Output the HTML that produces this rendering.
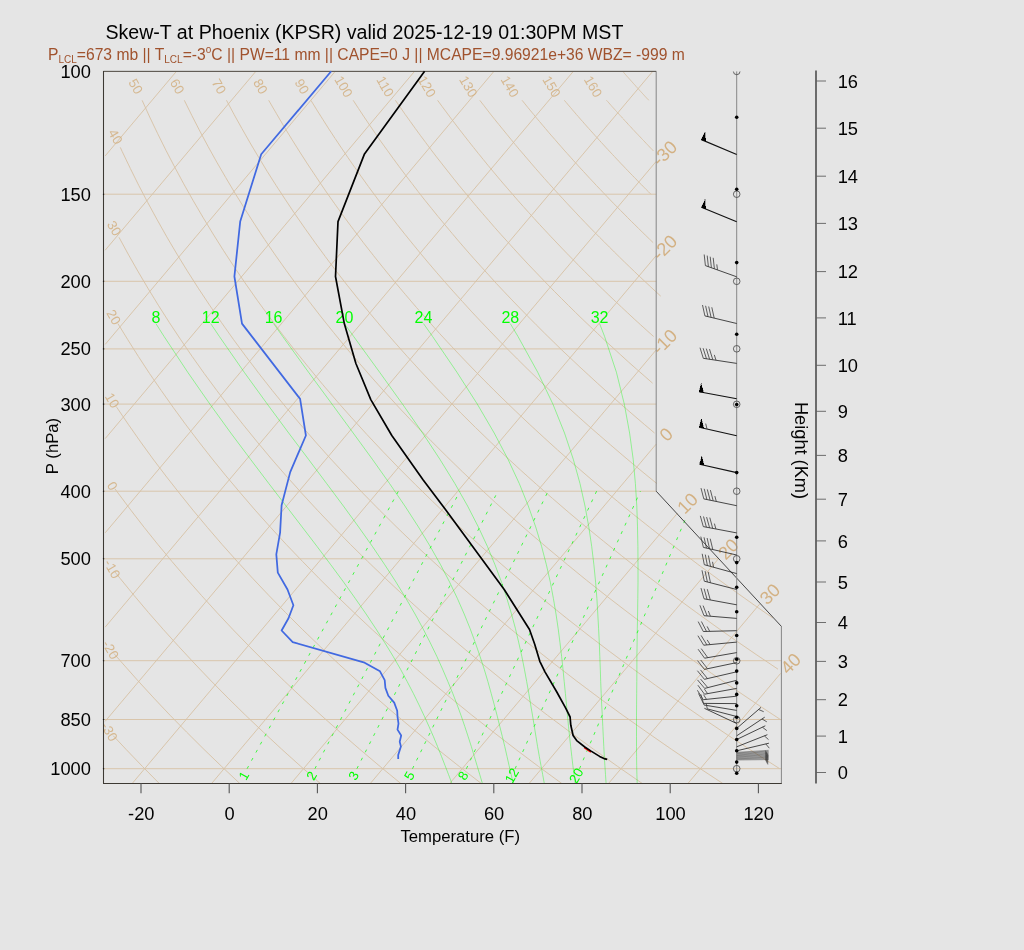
<!DOCTYPE html>
<html><head><meta charset="utf-8"><title>Skew-T</title>
<style>
html,body{margin:0;padding:0;background:#e5e5e5;}
body{width:1024px;height:950px;position:relative;overflow:hidden;font-family:"Liberation Sans",sans-serif;}
</style></head><body>
<svg width="1024" height="950" viewBox="0 0 1024 950" style="position:absolute;left:0;top:0">
<rect width="1024" height="950" fill="#e5e5e5"/>
<g opacity="0.999">
<g stroke="#d2b48c" stroke-width="0.9" fill="none" opacity="0.73">
<path d="M103.4 768.7H781.4"/>
<path d="M103.4 719.5H781.4"/>
<path d="M103.4 660.7H781.4"/>
<path d="M103.4 558.8H718.4"/>
<path d="M103.4 491.2H656.2"/>
<path d="M103.4 404.1H656.2"/>
<path d="M103.4 348.9H656.2"/>
<path d="M103.4 281.3H656.2"/>
<path d="M103.4 194.2H656.2"/>
<path d="M105.2 155.9L176.4 71.4"/>
<path d="M105.2 250.2L255.8 71.4"/>
<path d="M105.2 344.4L335.2 71.4"/>
<path d="M105.2 438.6L414.5 71.4"/>
<path d="M105.2 532.8L493.9 71.4"/>
<path d="M105.2 627.1L573.3 71.4"/>
<path d="M105.2 721.3L652.7 71.4"/>
<path d="M132.2 783.5L656.2 161.4"/>
<path d="M211.6 783.5L656.2 255.6"/>
<path d="M291 783.5L656.2 349.9"/>
<path d="M370.3 783.5L656.2 444.1"/>
<path d="M449.7 783.5L677.5 513.1"/>
<path d="M529.1 783.5L718.4 558.8"/>
<path d="M608.5 783.5L759.9 603.8"/>
<path d="M687.9 783.5L780.6 673.4"/>
<path d="M113.2 735.7 126 749.3 142.4 766.4 159.3 783.5"/>
<path d="M113.8 653.4 123 663.9 138.2 681 153.9 698.1 170 715.2 186.7 732.2 203.9 749.3 221.6 766.4 239.8 783.5"/>
<path d="M114.9 571.9 120.2 578.5 134.2 595.6 148.6 612.7 163.6 629.8 179 646.8 194.9 663.9 211.2 681 228.1 698.1 245.5 715.2 263.4 732.2 281.8 749.3 300.8 766.4 320.3 783.5"/>
<path d="M114.9 488.8 118.1 493.1 130.9 510.2 144.1 527.3 157.8 544.4 171.9 561.4 186.5 578.5 201.6 595.6 217.1 612.7 233.2 629.8 249.7 646.8 266.8 663.9 284.3 681 302.4 698.1 321 715.2 340.1 732.2 359.8 749.3 380 766.4 400.8 783.5"/>
<path d="M116.1 406.4 117 407.7 128.6 424.8 140.6 441.9 153 459 165.9 476 179.3 493.1 193 510.2 207.3 527.3 222 544.4 237.2 561.4 252.8 578.5 269 595.6 285.7 612.7 302.8 629.8 320.5 646.8 338.7 663.9 357.4 681 376.6 698.1 396.4 715.2 416.8 732.2 437.7 749.3 459.2 766.4 481.3 783.5"/>
<path d="M117.9 323.6 127.6 339.4 138.4 356.5 149.6 373.6 161.3 390.6 173.4 407.7 185.9 424.8 198.9 441.9 212.3 459 226.1 476 240.5 493.1 255.2 510.2 270.5 527.3 286.2 544.4 302.5 561.4 319.2 578.5 336.4 595.6 354.2 612.7 372.4 629.8 391.2 646.8 410.6 663.9 430.4 681 450.9 698.1 471.9 715.2 493.5 732.2 515.7 749.3 538.4 766.4 561.8 783.5"/>
<path d="M119 237.3 128.1 254 137.8 271.1 147.9 288.2 158.3 305.2 169.2 322.3 180.5 339.4 192.2 356.5 204.3 373.6 216.9 390.6 229.8 407.7 243.3 424.8 257.2 441.9 271.5 459 286.3 476 301.6 493.1 317.4 510.2 333.7 527.3 350.4 544.4 367.7 561.4 385.5 578.5 403.8 595.6 422.7 612.7 442 629.8 462 646.8 482.5 663.9 503.5 681 525.2 698.1 547.4 715.2 570.2 732.2 593.6 749.3 617.6 766.4 642.3 783.5"/>
<path d="M120.3 147.4 122.2 151.5 130.4 168.6 138.9 185.7 147.9 202.8 157.2 219.8 166.8 236.9 176.9 254 187.4 271.1 198.3 288.2 209.6 305.2 221.3 322.3 233.4 339.4 246 356.5 259 373.6 272.4 390.6 286.3 407.7 300.7 424.8 315.5 441.9 330.8 459 346.6 476 362.8 493.1 379.6 510.2 396.9 527.3 414.7 544.4 433 561.4 451.8 578.5 471.2 595.6 491.2 612.7 511.7 629.8 532.7 646.8 554.4 663.9 576.6 681 599.4 698.1 622.8 715.2 646.9 732.2 671.5 749.3 696.8 766.4 722.8 783.5"/>
<path d="M142.1 100.3 149.7 117 157.7 133.7 166 150.4 174.7 167.1 183.7 183.8 193.1 200.5 202.9 217.2 213.1 234 223.6 250.7 234.5 267.4 245.9 284.1 257.6 300.8 269.8 317.5 282.3 334.2 295.3 350.9 308.8 367.6 322.6 384.4 336.9 401.1 351.7 417.8 366.9 434.5 382.6 451.2 398.7 467.9 415.4 484.6 432.5 501.3 450.1 518 468.2 534.8 486.9 551.5 506 568.2 525.7 584.9 546 601.6 566.7 618.3 588 635 609.9 651.7 632.4 668.4 655.4 685.2 679.1 701.9 703.3 718.6 728.1 735.3 753.6 752 779.7 768.7"/>
<path d="M184.3 100.3 192 115.8 199.9 131.2 208.2 146.7 216.8 162.2 225.8 177.7 235 193.2 244.6 208.6 254.5 224.1 264.7 239.6 275.3 255.1 286.3 270.6 297.5 286 309.2 301.5 321.2 317 333.6 332.5 346.3 348 359.5 363.4 373 378.9 386.9 394.4 401.2 409.9 415.9 425.4 431 440.8 446.6 456.3 462.5 471.8 478.9 487.3 495.7 502.8 513 518.2 530.7 533.7 548.9 549.2 567.5 564.7 586.5 580.2 606.1 595.7 626.1 611.1 646.7 626.6 667.7 642.1 689.2 657.6 711.2 673.1 733.8 688.5 756.8 704 780.4 719.5"/>
<path d="M226.5 100.3 234.1 114.5 242 128.7 250.1 142.9 258.6 157.2 267.2 171.4 276.2 185.6 285.5 199.8 295 214.1 304.9 228.3 315 242.5 325.4 256.7 336.1 271 347.2 285.2 358.5 299.4 370.2 313.6 382.2 327.9 394.5 342.1 407.1 356.3 420.1 370.5 433.4 384.8 447.1 399 461.1 413.2 475.4 427.4 490.1 441.6 505.2 455.9 520.6 470.1 536.4 484.3 552.6 498.5 569.2 512.8 586.1 527 603.5 541.2 621.2 555.4 639.3 569.7 657.9 583.9 676.8 598.1 696.2 612.3 716 626.6 736.2 640.8 756.9 655 778 669.2"/>
<path d="M268.7 100.3 276.2 113.2 283.8 126.2 291.7 139.1 299.8 152 308.2 165 316.8 177.9 325.6 190.9 334.7 203.8 344 216.8 353.6 229.7 363.4 242.7 373.5 255.6 383.8 268.5 394.4 281.5 405.3 294.4 416.4 307.4 427.8 320.3 439.4 333.3 451.4 346.2 463.6 359.1 476.1 372.1 488.9 385 502 398 515.4 410.9 529.1 423.9 543.1 436.8 557.4 449.8 572 462.7 586.9 475.6 602.2 488.6 617.7 501.5 633.6 514.5 649.8 527.4 666.4 540.4 683.3 553.3 700.5 566.3 718.1 579.2 736 592.1 754.3 605.1 772.9 618"/>
<path d="M310.9 100.3 316.8 109.9 322.8 119.4 328.9 129 335.2 138.6 341.6 148.2 348.1 157.8 354.7 167.3 361.5 176.9 368.4 186.5 375.5 196.1 382.6 205.7 390 215.3 397.4 224.8 405 234.4 412.8 244 420.7 253.6 428.7 263.2 436.9 272.8 445.2 282.3 453.7 291.9 462.4 301.5 471.1 311.1 480.1 320.7 489.2 330.2 498.4 339.8 507.8 349.4 517.4 359 527.1 368.6 537 378.2 547 387.7 557.3 397.3 567.6 406.9 578.2 416.5 588.9 426.1 599.8 435.6 610.9 445.2 622.1 454.8 633.5 464.4 645.1 474 656.9 483.6"/>
<path d="M353.2 100.3 358.6 108.6 364.1 116.9 369.7 125.2 375.4 133.5 381.2 141.9 387.2 150.2 393.2 158.5 399.3 166.8 405.5 175.1 411.9 183.4 418.3 191.8 424.8 200.1 431.5 208.4 438.2 216.7 445.1 225 452.1 233.4 459.1 241.7 466.3 250 473.6 258.3 481.1 266.6 488.6 274.9 496.2 283.3 504 291.6 511.9 299.9 519.9 308.2 528 316.5 536.2 324.8 544.6 333.2 553.1 341.5 561.6 349.8 570.4 358.1 579.2 366.4 588.2 374.7 597.3 383.1 606.5 391.4 615.8 399.7 625.3 408 634.9 416.3 644.7 424.7 654.5 433"/>
<path d="M395.4 100.3 400.3 107.3 405.2 114.4 410.3 121.5 415.4 128.6 420.5 135.6 425.8 142.7 431.1 149.8 436.5 156.9 442 163.9 447.6 171 453.2 178.1 458.9 185.2 464.7 192.2 470.6 199.3 476.5 206.4 482.5 213.4 488.7 220.5 494.8 227.6 501.1 234.7 507.5 241.7 513.9 248.8 520.4 255.9 527 263 533.7 270 540.5 277.1 547.3 284.2 554.3 291.3 561.3 298.3 568.4 305.4 575.6 312.5 582.9 319.6 590.3 326.6 597.8 333.7 605.3 340.8 613 347.8 620.7 354.9 628.5 362 636.5 369.1 644.5 376.1 652.6 383.2"/>
<path d="M437.6 100.3 441.9 106.2 446.3 112.1 450.7 118 455.2 123.9 459.7 129.8 464.3 135.7 468.9 141.6 473.6 147.5 478.3 153.4 483.1 159.3 487.9 165.2 492.8 171.1 497.8 177.1 502.8 183 507.9 188.9 513 194.8 518.1 200.7 523.4 206.6 528.7 212.5 534 218.4 539.4 224.3 544.9 230.2 550.4 236.1 556 242 561.6 247.9 567.3 253.8 573.1 259.7 578.9 265.7 584.8 271.6 590.7 277.5 596.7 283.4 602.8 289.3 608.9 295.2 615.1 301.1 621.4 307 627.7 312.9 634 318.8 640.5 324.7 647 330.6 653.6 336.5"/>
<path d="M479.8 100.3 483.6 105.2 487.4 110.1 491.2 115 495.1 119.9 499 124.7 503 129.6 507 134.5 511 139.4 515 144.3 519.1 149.2 523.3 154.1 527.5 159 531.7 163.9 535.9 168.8 540.2 173.7 544.5 178.6 548.9 183.5 553.3 188.4 557.8 193.3 562.3 198.2 566.8 203.1 571.4 208 576 212.9 580.6 217.8 585.3 222.7 590 227.6 594.8 232.5 599.6 237.3 604.5 242.2 609.4 247.1 614.3 252 619.3 256.9 624.3 261.8 629.4 266.7 634.5 271.6 639.6 276.5 644.8 281.4 650.1 286.3 655.3 291.2 660.7 296.1"/>
<path d="M522.1 100.3 524.9 103.8 527.8 107.4 530.7 110.9 533.7 114.5 536.6 118.1 539.6 121.6 542.6 125.2 545.6 128.7 548.6 132.3 551.7 135.9 554.8 139.4 557.9 143 561 146.5 564.1 150.1 567.3 153.6 570.5 157.2 573.7 160.8 576.9 164.3 580.1 167.9 583.4 171.4 586.7 175 590 178.6 593.3 182.1 596.6 185.7 600 189.2 603.4 192.8 606.8 196.3 610.2 199.9 613.7 203.5 617.2 207 620.7 210.6 624.2 214.1 627.7 217.7 631.3 221.3 634.9 224.8 638.5 228.4 642.1 231.9 645.8 235.5 649.4 239 653.1 242.6"/>
<path d="M564.3 100.3 566.3 102.6 568.3 105 570.3 107.3 572.3 109.7 574.3 112 576.3 114.4 578.4 116.7 580.4 119.1 582.5 121.4 584.6 123.8 586.6 126.1 588.7 128.4 590.8 130.8 592.9 133.1 595 135.5 597.2 137.8 599.3 140.2 601.4 142.5 603.6 144.9 605.7 147.2 607.9 149.6 610.1 151.9 612.3 154.3 614.5 156.6 616.7 159 618.9 161.3 621.1 163.7 623.4 166 625.6 168.4 627.8 170.7 630.1 173.1 632.4 175.4 634.7 177.8 637 180.1 639.2 182.5 641.6 184.8 643.9 187.2 646.2 189.5 648.5 191.8 650.9 194.2"/>
<path d="M606.5 100.3 607.6 101.5 608.8 102.8 609.9 104.1 611 105.3 612.1 106.6 613.3 107.9 614.4 109.1 615.5 110.4 616.7 111.7 617.8 112.9 619 114.2 620.1 115.4 621.3 116.7 622.4 118 623.6 119.2 624.7 120.5 625.9 121.8 627.1 123 628.2 124.3 629.4 125.6 630.6 126.8 631.8 128.1 632.9 129.4 634.1 130.6 635.3 131.9 636.5 133.2 637.7 134.4 638.9 135.7 640.1 136.9 641.3 138.2 642.5 139.5 643.7 140.7 644.9 142 646.1 143.3 647.3 144.5 648.5 145.8 649.7 147.1 650.9 148.3 652.2 149.6 653.4 150.9"/>
<path d="M622.7 71.4 623.4 72.1 624 72.8 624.6 73.6 625.3 74.3 625.9 75 626.5 75.7 627.2 76.5 627.8 77.2 628.5 77.9 629.1 78.6 629.7 79.3 630.4 80.1 631 80.8 631.7 81.5 632.3 82.2 633 83 633.6 83.7 634.3 84.4 634.9 85.1 635.6 85.8 636.2 86.6 636.9 87.3 637.5 88 638.2 88.7 638.8 89.4 639.5 90.2 640.1 90.9 640.8 91.6 641.4 92.3 642.1 93.1 642.8 93.8 643.4 94.5 644.1 95.2 644.7 95.9 645.4 96.7 646.1 97.4 646.7 98.1 647.4 98.8 648.1 99.5 648.7 100.3"/>
</g>
<g fill="#d3b081" font-family="Liberation Sans, sans-serif" font-size="18.3" opacity="0.97">
<text transform="translate(656.2,161.4) rotate(-45)" x="-1.5" y="6.5">-30</text>
<text transform="translate(656.2,255.6) rotate(-45)" x="-1.5" y="6.5">-20</text>
<text transform="translate(656.2,349.9) rotate(-45)" x="-1.5" y="6.5">-10</text>
<text transform="translate(656.2,444.1) rotate(-45)" x="8.8" y="6.5">0</text>
<text transform="translate(677.5,513.1) rotate(-45)" x="3.8" y="6.5">10</text>
<text transform="translate(718.4,558.8) rotate(-45)" x="3.8" y="6.5">20</text>
<text transform="translate(759.9,603.8) rotate(-45)" x="3.8" y="6.5">30</text>
<text transform="translate(780.6,673.4) rotate(-45)" x="3.8" y="6.5">40</text>
</g>
<g fill="#d3b081" font-family="Liberation Sans, sans-serif" font-size="13.4" text-anchor="middle" opacity="0.85">
<text transform="translate(109.5,731.7) rotate(60)" x="0" y="4.8">-30</text>
<text transform="translate(110.7,649.7) rotate(60)" x="0" y="4.8">-20</text>
<text transform="translate(112.4,568.8) rotate(60)" x="0" y="4.8">-10</text>
<text transform="translate(112.6,485.8) rotate(60)" x="0" y="4.8">0</text>
<text transform="translate(112.5,400.4) rotate(60)" x="0" y="4.8">10</text>
<text transform="translate(113.8,317) rotate(60)" x="0" y="4.8">20</text>
<text transform="translate(114.3,228.2) rotate(60)" x="0" y="4.8">30</text>
<text transform="translate(115.7,136.6) rotate(60)" x="0" y="4.8">40</text>
<text transform="translate(135.9,86.4) rotate(60)" x="0" y="4.8">50</text>
<text transform="translate(177.5,86.4) rotate(60)" x="0" y="4.8">60</text>
<text transform="translate(219.1,86.4) rotate(60)" x="0" y="4.8">70</text>
<text transform="translate(260.6,86.4) rotate(60)" x="0" y="4.8">80</text>
<text transform="translate(302.2,86.4) rotate(60)" x="0" y="4.8">90</text>
<text transform="translate(343.8,86.4) rotate(60)" x="0" y="4.8">100</text>
<text transform="translate(385.4,86.4) rotate(60)" x="0" y="4.8">110</text>
<text transform="translate(427,86.4) rotate(60)" x="0" y="4.8">120</text>
<text transform="translate(468.5,86.4) rotate(60)" x="0" y="4.8">130</text>
<text transform="translate(510.1,86.4) rotate(60)" x="0" y="4.8">140</text>
<text transform="translate(551.7,86.4) rotate(60)" x="0" y="4.8">150</text>
<text transform="translate(593.3,86.4) rotate(60)" x="0" y="4.8">160</text>
</g>
<g stroke="#00ff00" stroke-width="0.9" fill="none" stroke-dasharray="3,6.2" opacity="0.8">
<path d="M579.5 768.7L685 520.1"/>
<path d="M515.1 768.7L640.4 491.2"/>
<path d="M466.4 768.7L596.6 491.2"/>
<path d="M412.5 768.7L548.1 491.2"/>
<path d="M356.9 768.7L497.9 491.2"/>
<path d="M314.9 768.7L459.9 491.2"/>
<path d="M247.1 768.7L398.4 491.2"/>
</g>
<g stroke="#00ff00" stroke-width="0.6" fill="none" opacity="0.62">
<path d="M637.2 783.5 636.9 774.7 636.7 765.7 636.6 756.4 636.5 746.7 636.5 736.8 636.5 726.5 636.5 715.9 636.6 704.9 636.7 693.5 636.8 681.6 636.9 669.2 636.9 656.3 637.1 642.9 637.3 628.8 637.6 614 637.8 598.5 638 582.1 638 564.8 637.9 546.4 637.5 526.9 636.8 506 635.4 483.6 633.2 459.3 629.6 433 624.3 404.1 616.4 372.2 604.6 336.5 599.6 323.6"/>
<path d="M606.1 783.5 605.5 774.7 604.9 765.7 604.3 756.4 603.8 746.7 603.3 736.8 602.8 726.5 602.3 715.9 601.7 704.9 601.2 693.5 600.7 681.6 600.3 669.2 599.8 656.3 599.3 642.9 598.6 628.8 597.8 614 596.9 598.5 595.6 582.1 593.9 564.8 591.7 546.4 588.8 526.9 585 506 580 483.6 573.3 459.3 564.5 433 552.9 404.1 537.7 372.2 518 336.5 510.3 323.6"/>
<path d="M575.2 783.5 574 774.7 572.9 765.7 571.8 756.4 570.7 746.7 569.6 736.8 568.5 726.5 567.5 715.9 566.5 704.9 565.4 693.5 564.2 681.6 563 669.2 561.6 656.3 560 642.9 558.2 628.8 556 614 553.4 598.5 550.3 582.1 546.4 564.8 541.6 546.4 535.7 526.9 528.3 506 519.3 483.6 508 459.3 494.2 433 477.3 404.1 456.9 372.2 432.6 336.5 423.5 323.6"/>
<path d="M544.3 783.5 542.7 774.7 541 765.7 539.3 756.4 537.6 746.7 536 736.8 534.3 726.5 532.6 715.9 530.7 704.9 528.8 693.5 526.7 681.6 524.4 669.2 521.8 656.3 518.8 642.9 515.5 628.8 511.5 614 506.9 598.5 501.5 582.1 495 564.8 487.4 546.4 478.3 526.9 467.6 506 454.9 483.6 439.9 459.3 422.6 433 402.5 404.1 379.6 372.2 353.7 336.5 344.4 323.6"/>
<path d="M513.2 783.5 511.2 774.7 509.1 765.7 507 756.4 504.8 746.7 502.4 736.8 499.8 726.5 497.2 715.9 494.3 704.9 491.2 693.5 487.9 681.6 484.2 669.2 480 656.3 475.4 642.9 470.2 628.8 464.2 614 457.4 598.5 449.6 582.1 440.6 564.8 430.2 546.4 418.4 526.9 404.9 506 389.6 483.6 372.4 459.3 353.2 433 332 404.1 308.5 372.2 282.7 336.5 273.6 323.6"/>
<path d="M482.4 783.5 479.8 774.7 477.1 765.7 474.3 756.4 471.4 746.7 468.2 736.8 464.8 726.5 461.2 715.9 457.2 704.9 452.8 693.5 447.9 681.6 442.6 669.2 436.8 656.3 430.3 642.9 423.1 628.8 415 614 406 598.5 396 582.1 384.8 564.8 372.4 546.4 358.6 526.9 343.4 506 326.7 483.6 308.5 459.3 288.7 433 267.3 404.1 244.2 372.2 219.4 336.5 210.7 323.6"/>
<path d="M451.9 783.5 448.6 774.7 445.1 765.7 441.5 756.4 437.6 746.7 433.5 736.8 429 726.5 424.2 715.9 419 704.9 413.4 693.5 407.2 681.6 400.5 669.2 393.1 656.3 384.9 642.9 375.9 628.8 366.1 614 355.3 598.5 343.6 582.1 330.8 564.8 317 546.4 302.1 526.9 286.1 506 268.9 483.6 250.5 459.3 230.8 433 209.9 404.1 187.7 372.2 164.1 336.5 155.9 323.6"/>
</g>
<g fill="#00ff00" font-family="Liberation Sans, sans-serif" font-size="16" text-anchor="middle">
<text x="599.6" y="322.6">32</text>
<text x="510.3" y="322.6">28</text>
<text x="423.5" y="322.6">24</text>
<text x="344.4" y="322.6">20</text>
<text x="273.6" y="322.6">16</text>
<text x="210.7" y="322.6">12</text>
<text x="155.9" y="322.6">8</text>
</g>
<g fill="#00ff00" font-family="Liberation Sans, sans-serif" font-size="13.4" text-anchor="middle" opacity="0.99">
<text transform="translate(576.1,775.7) rotate(-60)" x="0" y="4.8">20</text>
<text transform="translate(511.7,775.7) rotate(-60)" x="0" y="4.8">12</text>
<text transform="translate(463,775.7) rotate(-60)" x="0" y="4.8">8</text>
<text transform="translate(409.1,775.7) rotate(-60)" x="0" y="4.8">5</text>
<text transform="translate(353.5,775.7) rotate(-60)" x="0" y="4.8">3</text>
<text transform="translate(311.5,775.7) rotate(-60)" x="0" y="4.8">2</text>
<text transform="translate(243.7,775.7) rotate(-60)" x="0" y="4.8">1</text>
</g>
<path d="M103.4 71.4H656.2V491.2M781.4 626.4V783.2" fill="none" stroke="#7a7a7a" stroke-width="0.9"/>
<path d="M103.4 71.4H656.2" stroke="#4a4238" stroke-width="0.9" opacity="0.8" fill="none"/>
<path d="M103.5 71.1V783.4H781.8" fill="none" stroke="#3d3933" stroke-width="1.05"/>
<path d="M656.2 491.2L781.4 626.4" fill="none" stroke="#2a2a2a" stroke-width="0.85"/>
<path d="M102.9 768.7h1.3M102.9 719.5h1.3M102.9 660.7h1.3M102.9 558.8h1.3M102.9 491.2h1.3M102.9 404.1h1.3M102.9 348.9h1.3M102.9 281.3h1.3M102.9 194.2h1.3" stroke="#111" stroke-width="1.1" fill="none"/>
<path d="M584.3 747.6L591 752" stroke="#ff0000" stroke-width="1.8" fill="none"/>
<path d="M424.6 71.3 364.5 153.9 338 221.6 335.5 276.5 344.3 323.6 355.9 363.5 370.8 399.6 391.8 435.5 423.2 480 444.9 508.8 481.1 557.9 504.2 589.5 529.5 629.5 534.7 644.2 539.8 661.3 545.1 672.1 556.8 692 565.7 708.2 570.1 717 570.8 725.2 573.1 735.5 576.7 740.6 584.8 747 590.7 750.9 599.6 756.4 604 758.6 607.2 759.3" stroke="#000" stroke-width="1.7" fill="none" stroke-linejoin="round"/>
<path d="M331.2 71.3 261.2 154.2 240.2 221.6 234.4 276.5 242 323.6 300.1 398.9 305.9 435.5 290.2 472.1 281.6 505.3 280.1 532.6 276.3 554.3 277.8 572.6 287.5 589.5 293.4 605.3 288.5 618.3 281.6 630.5 292.7 642.1 363.7 662.3 380 671.3 384.7 680.1 385.4 687.9 388.3 695.7 394.2 702.6 397.2 710.7 397.5 716.6 398.5 723.7 397.5 729.6 401.2 735.5 399.7 741.7 400.9 746.4 398.2 754.9 398.2 759.1" stroke="#4169e1" stroke-width="1.75" fill="none" stroke-linejoin="round"/>
<defs><clipPath id="wc"><rect x="690" y="71.4" width="100" height="712"/></clipPath></defs>
<path d="M736.7 71.4V773.2" stroke="#888" stroke-width="1" fill="none"/>
<g clip-path="url(#wc)" stroke="#444" stroke-width="0.8" fill="none">
<circle cx="736.7" cy="71.4" r="3.3"/>
<circle cx="736.7" cy="194.2" r="3.3"/>
<circle cx="736.7" cy="281.3" r="3.3"/>
<circle cx="736.7" cy="348.8" r="3.3"/>
<circle cx="736.7" cy="404.3" r="3.3"/>
<circle cx="736.7" cy="491.2" r="3.3"/>
<circle cx="736.7" cy="558.8" r="3.3"/>
<circle cx="736.7" cy="660.8" r="3.3"/>
<circle cx="736.7" cy="719.6" r="3.3"/>
<circle cx="736.7" cy="768.7" r="3.3"/>
</g>
<path d="M736.7 276.8L705.4 265.6M736.7 323.5L704.9 315.9M736.7 363.4L703.3 358.3M736.7 505.7L703.8 498.9M736.7 532.9L703.3 526.6M736.7 555L703.4 547.4M736.7 573.6L704.3 564.7M736.7 589.5L704.3 581.2M736.7 604.8L704 598.8M736.7 618.4L704 615.7M736.7 630.7L703.3 631.5M736.7 642.1L703.7 645.2M736.7 652.6L704.6 658.2M736.7 662.6L704.4 669.4M736.7 671.8L704.4 679.3M736.7 680.3L704.7 688.4M736.7 688.4L704.5 694.2M736.7 696.2L703.3 699.7M736.7 703.6L703.3 703.4M736.7 710.4L704 705M736.7 716.5L707.3 708.9M736.7 723.5L704.4 708.3M736.7 728.4L761 707.4M736.7 735.8L764.7 717.2M736.7 739.5L765.3 725.8M736.7 746.8L767.4 734.7M736.7 750.8L768.9 743.2" stroke="#1e1e1e" stroke-width="0.8" fill="none"/>
<path d="M736.7 154.5L701.4 139.6M736.7 221.7L701.4 207.2M736.7 398.8L699.1 391.8M736.7 435.7L699.1 427.2M736.7 472.6L699.5 464.3" stroke="#111" stroke-width="1.15" fill="none"/>
<path d="M736.7 752.3L768.6 750.3M736.7 752.9L768.6 751.1M736.7 753.6L768.6 751.8M736.7 754.2L768.6 752.6M736.7 754.9L768.6 753.4M736.7 755.5L768.6 754.2M736.7 756.1L768.6 755M736.7 756.8L768.6 755.7M736.7 757.4L768.6 756.5M736.7 758.1L768.6 757.3M736.7 758.7L768.6 758M736.7 759.4L768.6 758.8M736.7 760L768.6 759.6" stroke="#333" stroke-width="0.55" fill="none" opacity="0.75"/>
<path d="M765.4 750.5L768.2 755.3M765.4 751.3L768.1 756.1M765.4 752L768.1 756.9M765.4 752.8L768.1 757.7M765.4 753.5L768.1 758.4M765.4 754.3L768.1 759.2M765.4 755.1L768 760M765.4 755.8L768 760.7M765.4 756.6L768 761.5M765.4 757.4L768 762.3M765.4 758.1L768 763.1M765.4 758.9L767.9 763.8M765.4 759.6L767.9 764.6" stroke="#333" stroke-width="0.6" fill="none" opacity="0.8"/>
<path d="M705.4 265.6L704.2 254.5M708.4 266.7L707.2 255.6M711.4 267.8L710.2 256.7M714.4 268.8L713.2 257.8M717.5 269.9L716.8 264.4M704.9 315.9L702.5 305M708 316.6L705.6 305.8M711.1 317.4L708.7 306.5M714.2 318.1L711.8 307.3M703.3 358.3L700 347.7M706.5 358.8L703.1 348.2M709.6 359.3L706.3 348.6M712.8 359.7L709.5 349.1M716 360.2L714.3 354.9M707 429L705.7 423.6M703.8 498.9L701 488.1M706.9 499.5L704.2 488.8M710.1 500.2L707.3 489.4M713.2 500.8L710.4 490.1M716.3 501.5L714.9 496.1M703.3 526.6L700.3 515.9M706.4 527.2L703.5 516.5M709.6 527.8L706.6 517.1M712.7 528.4L709.8 517.6M715.9 529L714.4 523.6M703.4 547.4L700.8 536.6M706.5 548.1L704 537.3M709.6 548.8L707.1 538M712.8 549.5L710.2 538.7M704.3 564.7L702.2 553.8M707.4 565.5L705.3 554.6M710.5 566.4L708.4 555.5M713.6 567.2L712.5 561.8M704.3 581.2L702 570.3M707.4 582L705.1 571.1M710.5 582.8L708.2 571.9M704 598.8L701 588.1M707.1 599.4L704.1 588.7M710.3 600L707.3 589.2M704 615.7L699.9 605.3M707.2 616L703.1 605.6M710.4 616.2L708.3 611M703.3 631.5L698.2 621.6M706.5 631.4L701.4 621.5M709.7 631.3L707.1 626.4M703.7 645.2L697.9 635.7M706.9 644.9L701.1 635.4M710.1 644.6L707.2 639.9M704.6 658.2L698.1 649.2M707.8 657.7L701.2 648.6M704.4 669.4L697.5 660.6M707.5 668.7L700.7 660M704.4 679.3L697.4 670.7M707.5 678.6L700.5 669.9M704.7 688.4L697.5 679.9M707.8 687.6L700.6 679.1M704.5 694.2L697.9 685.2M707.6 693.6L704.4 689.1M703.3 699.7L697.4 690.3M706.5 699.4L703.5 694.6M703.3 703.4L698.5 693.4M704 705L700.8 694.3M707.3 708.9L706.2 703.4M758.6 709.5L763.7 711.7M762 719L766.8 721.8M762.4 727.2L766.8 730.6M764.4 735.9L768.5 739.6M765.8 743.9L769.3 748.2" stroke="#3a3a3a" stroke-width="0.8" fill="none"/>
<path d="M701.4 139.6L705.2 131.7L705.7 141.4ZM701.4 207.2L705.1 199.3L705.7 209ZM699.1 391.8L701.1 383.3L703.7 392.7ZM699.1 427.2L701.4 418.8L703.7 428.2ZM699.5 464.3L701.8 455.9L704.1 465.3Z" fill="#000" stroke="#000" stroke-width="0.3" shape-rendering="crispEdges"/>
<g fill="#000">
<circle cx="736.7" cy="117.2" r="1.8"/>
<circle cx="736.7" cy="189.3" r="1.8"/>
<circle cx="736.7" cy="262.6" r="1.8"/>
<circle cx="736.7" cy="334.3" r="1.8"/>
<circle cx="736.7" cy="404.5" r="1.8"/>
<circle cx="736.7" cy="472.6" r="1.8"/>
<circle cx="736.7" cy="537.2" r="1.8"/>
<circle cx="736.7" cy="562.6" r="1.8"/>
<circle cx="736.7" cy="587.3" r="1.8"/>
<circle cx="736.7" cy="611.7" r="1.8"/>
<circle cx="736.7" cy="635.5" r="1.8"/>
<circle cx="736.7" cy="659.3" r="1.8"/>
<circle cx="736.7" cy="671.1" r="1.8"/>
<circle cx="736.7" cy="682.9" r="1.8"/>
<circle cx="736.7" cy="694.4" r="1.8"/>
<circle cx="736.7" cy="705.8" r="1.8"/>
<circle cx="736.7" cy="717.2" r="1.8"/>
<circle cx="736.7" cy="728.4" r="1.8"/>
<circle cx="736.7" cy="739.5" r="1.8"/>
<circle cx="736.7" cy="750.8" r="1.8"/>
<circle cx="736.7" cy="762.1" r="1.8"/>
<circle cx="736.7" cy="773.2" r="1.8"/>
</g>
<g stroke="#555" stroke-width="1.1" fill="none">
<path d="M141 783.2V793.2"/>
<path d="M229.2 783.2V793.2"/>
<path d="M317.4 783.2V793.2"/>
<path d="M405.6 783.2V793.2"/>
<path d="M493.8 783.2V793.2"/>
<path d="M582 783.2V793.2"/>
<path d="M670.2 783.2V793.2"/>
<path d="M758.4 783.2V793.2"/>
</g>
<g fill="#000" font-family="Liberation Sans, sans-serif" font-size="18.3" text-anchor="middle">
<text x="141.3" y="819.5">-20</text>
<text x="229.5" y="819.5">0</text>
<text x="317.7" y="819.5">20</text>
<text x="405.9" y="819.5">40</text>
<text x="494.1" y="819.5">60</text>
<text x="582.3" y="819.5">80</text>
<text x="670.5" y="819.5">100</text>
<text x="758.7" y="819.5">120</text>
<text x="460.2" y="842" font-size="16.7">Temperature (F)</text>
</g>
<g fill="#000" font-family="Liberation Sans, sans-serif" font-size="18.3" text-anchor="end">
<text x="90.9" y="77.9">100</text>
<text x="90.9" y="200.7">150</text>
<text x="90.9" y="287.8">200</text>
<text x="90.9" y="355.4">250</text>
<text x="90.9" y="410.6">300</text>
<text x="90.9" y="497.7">400</text>
<text x="90.9" y="565.3">500</text>
<text x="90.9" y="667.2">700</text>
<text x="90.9" y="726">850</text>
<text x="90.9" y="775.2">1000</text>
</g>
<g opacity="0.99"><text transform="translate(58,446) rotate(-90)" font-family="Liberation Sans, sans-serif" font-size="16.7" text-anchor="middle" fill="#000">P (hPa)</text></g>
<path d="M816 70.6V783.4" stroke="#5e5e5e" stroke-width="1.8"/>
<g stroke="#606060" stroke-width="0.9" fill="none">
<path d="M816 81H826"/>
<path d="M816 128.2H826"/>
<path d="M816 176.2H826"/>
<path d="M816 223.4H826"/>
<path d="M816 271.6H826"/>
<path d="M816 317.9H826"/>
<path d="M816 365.3H826"/>
<path d="M816 411.3H826"/>
<path d="M816 455.4H826"/>
<path d="M816 499.2H826"/>
<path d="M816 540.9H826"/>
<path d="M816 582H826"/>
<path d="M816 622.5H826"/>
<path d="M816 661.4H826"/>
<path d="M816 699.7H826"/>
<path d="M816 736.1H826"/>
<path d="M816 772.5H826"/>
</g>
<g fill="#000" font-family="Liberation Sans, sans-serif" font-size="18.3">
<text x="837.7" y="87.6">16</text>
<text x="837.7" y="134.8">15</text>
<text x="837.7" y="182.8">14</text>
<text x="837.7" y="230">13</text>
<text x="837.7" y="278.2">12</text>
<text x="837.7" y="324.5">11</text>
<text x="837.7" y="371.9">10</text>
<text x="837.7" y="417.9">9</text>
<text x="837.7" y="462">8</text>
<text x="837.7" y="505.8">7</text>
<text x="837.7" y="547.5">6</text>
<text x="837.7" y="588.6">5</text>
<text x="837.7" y="629.1">4</text>
<text x="837.7" y="668">3</text>
<text x="837.7" y="706.3">2</text>
<text x="837.7" y="742.7">1</text>
<text x="837.7" y="779.1">0</text>
</g>
<g opacity="0.99"><text transform="translate(795.4,450.5) rotate(90)" font-family="Liberation Sans, sans-serif" font-size="18.2" text-anchor="middle" fill="#000">Height (Km)</text></g>
<text x="364.4" y="39" font-family="Liberation Sans, sans-serif" font-size="19.6" text-anchor="middle" fill="#000">Skew-T at Phoenix (KPSR) valid 2025-12-19 01:30PM MST</text>
<text x="48" y="59.5" font-family="Liberation Sans, sans-serif" font-size="15.66" fill="#a0522d">P<tspan font-size="10" dy="3">LCL</tspan><tspan dy="-3">=673 mb || T</tspan><tspan font-size="10" dy="3">LCL</tspan><tspan dy="-3">=-3</tspan><tspan font-size="10" dy="-7">o</tspan><tspan dy="7">C || PW=11 mm || CAPE=0 J || MCAPE=9.96921e+36 WBZ= -999 m</tspan></text>
</g>
</svg>
</body></html>
